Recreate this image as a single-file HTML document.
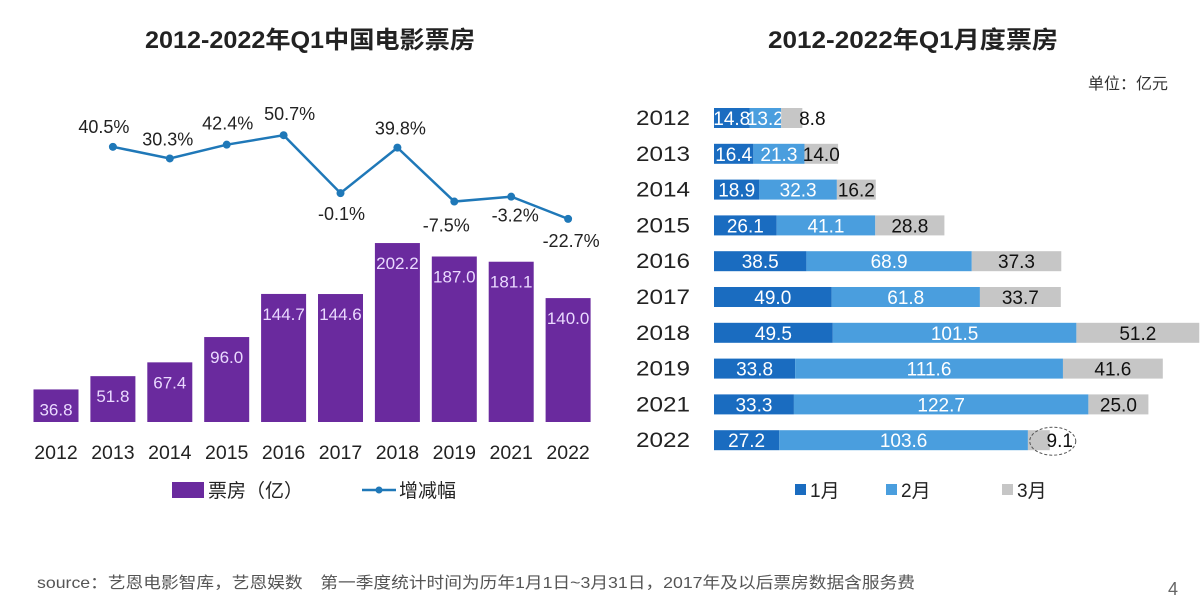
<!DOCTYPE html>
<html><head><meta charset="utf-8">
<style>
body{margin:0;background:#fff;}
svg{display:block;font-family:"Liberation Sans","Noto Sans CJK SC",sans-serif;}
</style></head>
<body>
<svg id="chart" width="1200" height="602" viewBox="0 0 1200 602" xmlns="http://www.w3.org/2000/svg">
<rect width="1200" height="602" fill="#fff"/>
<text x="145" y="48" textLength="330" lengthAdjust="spacingAndGlyphs" font-size="24" font-weight="bold" fill="#222">2012-2022年Q1中国电影票房</text>
<text x="768" y="48" textLength="290" lengthAdjust="spacingAndGlyphs" font-size="24" font-weight="bold" fill="#222">2012-2022年Q1月度票房</text>
<text x="1168" y="89" text-anchor="end" font-size="16" fill="#333">单位：亿元</text>
<g id="left"></g>
<g id="right"></g>
<g>
<rect x="172" y="482" width="32" height="16" fill="#6a2a9e"/>
<text x="208" y="497" font-size="19" fill="#222">票房（亿）</text>
<line x1="362" y1="490" x2="396" y2="490" stroke="#1f78b8" stroke-width="2.5"/>
<circle cx="379" cy="490" r="3.5" fill="#1f78b8"/>
<text x="399" y="497" font-size="19" fill="#222">增减幅</text>
</g>
<g>
<rect x="795" y="484" width="11" height="11" fill="#1a6cc0"/>
<text x="810" y="497" font-size="19" fill="#222">1月</text>
<rect x="886" y="484" width="11" height="11" fill="#4a9ede"/>
<text x="901" y="497" font-size="19" fill="#222">2月</text>
<rect x="1002" y="484" width="11" height="11" fill="#c6c6c6"/>
<text x="1017" y="497" font-size="19" fill="#222">3月</text>
</g>
<text x="37" y="588" textLength="878" lengthAdjust="spacingAndGlyphs" font-size="16" fill="#555">source：艺恩电影智库，艺恩娱数　第一季度统计时间为历年1月1日~3月31日，2017年及以后票房数据含服务费</text>
<text x="1168" y="595" font-size="18" fill="#666">4</text>
</svg>
<script>
const years = ["2012","2013","2014","2015","2016","2017","2018","2019","2021","2022"];
const boxOffice = [36.8,51.8,67.4,96.0,144.7,144.6,202.2,187.0,181.1,140.0];
const growthYears = ["2013","2014","2015","2016","2017","2018","2019","2021","2022"];
const growth = [40.5,30.3,42.4,50.7,-0.1,39.8,-7.5,-3.2,-22.7];
const jan = [14.8,16.4,18.9,26.1,38.5,49.0,49.5,33.8,33.3,27.2];
const feb = [13.2,21.3,32.3,41.1,68.9,61.8,101.5,111.6,122.7,103.6];
const mar = [8.8,14.0,16.2,28.8,37.3,33.7,51.2,41.6,25.0,9.1];

const NS="http://www.w3.org/2000/svg";
function mk(parent,tag,attrs,txt){const e=document.createElementNS(NS,tag);for(const k in attrs)e.setAttribute(k,attrs[k]);if(txt!==undefined)e.textContent=txt;parent.appendChild(e);return e;}
const L=document.getElementById('left'), R=document.getElementById('right');

const xL = i => 56 + i*56.9;
const yBar = v => 422 - v*0.885;
const yG = v => 193 - v*1.14;
years.forEach((y,i)=>{
  const cx=xL(i), top=yBar(boxOffice[i]);
  const b=mk(L,'rect',{x:cx-22.5,y:top,width:45,height:422-top,fill:'#6a2a9e'});
  
  
  const t=mk(L,'text',{x:cx,y:Math.min(top+26,416),'text-anchor':'middle','font-size':17,fill:'#ead9ff'},boxOffice[i].toFixed(1));
  
  
  const xl=mk(L,'text',{x:cx,y:459,'text-anchor':'middle','font-size':19.5,fill:'#222'},y);
  
  
});
const offs=[[-9,-14],[-2,-13],[1,-15],[6,-15],[1,27],[3,-13],[-8,30],[4,25],[3,28]];
let pts=growthYears.map((y,i)=>[xL(years.indexOf(y)),yG(growth[i])]);
const pl=mk(L,'polyline',{points:pts.map(p=>p.join(',')).join(' '),fill:'none',stroke:'#1f78b8','stroke-width':2.5});


pts.forEach((p,i)=>{
  const c=mk(L,'circle',{cx:p[0],cy:p[1],r:4,fill:'#1f78b8'});
  
  
  const t=mk(L,'text',{x:p[0]+offs[i][0],y:p[1]+offs[i][1],'text-anchor':'middle','font-size':18,fill:'#222'},growth[i].toFixed(1)+'%');
  
  
});

const x0=714, sc=2.40;
const yR = i => 118 + i*35.8;
years.forEach((y,i)=>{
  const cy=yR(i);
  const yl=mk(R,'text',{x:636,y:cy+7,textLength:54,lengthAdjust:'spacingAndGlyphs','font-size':21,fill:'#222'},y);
  
  
  const segs=[[jan[i],'#1a6cc0','#fff','jan'],[feb[i],'#4a9ede','#fff','feb'],[mar[i],'#c6c6c6','#111','mar']];
  let x=x0;
  segs.forEach(s=>{
    const w=s[0]*sc;
    const r=mk(R,'rect',{x:x,y:cy-10,width:w,height:20,fill:s[1]});
    
    
    let tx=x+w/2;
    if(s[3]==='mar'&&w<25) tx=x+w+10;
    const t=mk(R,'text',{x:tx,y:cy+7,'text-anchor':'middle','font-size':19,fill:s[2]},s[0].toFixed(1));
    
    
    x+=w;
  });
  if(i===years.length-1){
    const e=mk(R,'ellipse',{cx:x+3,cy:cy+1,rx:23,ry:14,fill:'none',stroke:'#555','stroke-dasharray':'3,2','stroke-width':1});
    
    
  }
});
</script>
</body></html>
